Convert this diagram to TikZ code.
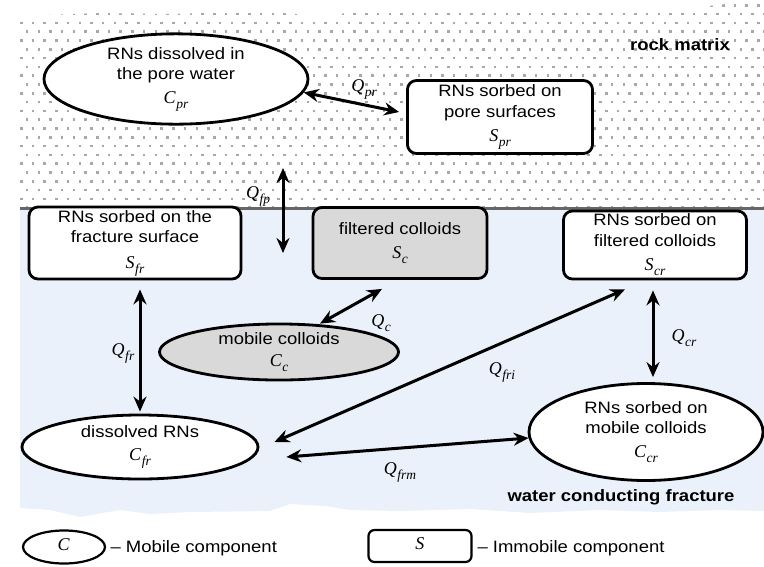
\documentclass[tikz,border=0pt]{standalone}
\usepackage{fontspec}
\setmainfont{Liberation Sans}[FakeStretch=1.12]
\newfontfamily\varfont{Liberation Serif}
\newcommand{\vsym}[2]{{\varfont\itshape\fontsize{18}{20}\selectfont #1\kern0.5pt\raisebox{-0.28em}{\fontsize{13.5}{13}\selectfont #2}}}
\usetikzlibrary{arrows.meta,shapes.geometric}
\definecolor{bluebg}{HTML}{EAF1FA}
\definecolor{nodegray}{HTML}{D9D9D9}
\definecolor{dotgray}{HTML}{A8A8A8}
\definecolor{linegray}{HTML}{666666}
\begin{document}
\begin{tikzpicture}[x=1pt,y=-1pt,
  every node/.style={font=\fontsize{16.5}{20.5}\selectfont},
  mobile/.style={ellipse, draw, line width=2.8pt, fill=white, align=center, inner sep=0pt},
  immobile/.style={rectangle, rounded corners=9pt, draw, line width=2.8pt, fill=white, align=center, inner sep=0pt},
  flux/.style={line width=3pt, {Stealth[length=15pt,width=13pt,inset=5pt]}-{Stealth[length=15pt,width=13pt,inset=5pt]}},
  lbl/.style={inner sep=0pt},
  bold/.style={font=\fontsize{16.5}{20}\selectfont\bfseries}
]
\useasboundingbox (0,0) rectangle (764,566);
% fracture (blue) region
\fill[bluebg] (20,209) -- (764,209) -- (764,511) -- (720,510) -- (660,512) -- (600,510) -- (530,513) -- (470,509)
  -- (400,511) -- (350,510) -- (325,506) -- (290,504) -- (270,511) -- (190,512) -- (150,514) -- (120,510)
  -- (80,517) -- (50,510) -- (20,508) -- cycle;
% rock matrix (dotted) region
\begin{scope}
  \clip (20,22) -- (45,15) -- (100,13) -- (170,14) -- (230,12) -- (290,13) -- (320,18) -- (350,12) -- (420,10)
    -- (470,11) -- (520,9) -- (580,10) -- (640,8) -- (700,7) -- (735,3) -- (764,2) -- (764,207) -- (20,207) -- cycle;
  \foreach \r in {0,...,24} {
    \pgfmathsetmacro{\off}{mod(\r,2)*5.85}
    \foreach \c in {0,...,66} {
      \fill[dotgray] ({20+\off+\c*11.7},{4+\r*8.8}) rectangle +(2.5,2.5);
    }
  }
\end{scope}
\draw[linegray, line width=3pt] (20,208) -- (764,208);

% nodes
\node[mobile, minimum width=264pt, minimum height=76pt] (cpr) at (176,79) {RNs dissolved in\\the pore water\\[3pt]\vsym{C}{pr}};
\node[immobile, minimum width=185pt, minimum height=73pt] (spr) at (500,117) {RNs sorbed on\\pore surfaces\\[4pt]\vsym{S}{pr}};
\node[immobile, minimum width=212pt, minimum height=72pt] (sfr) at (135,243) {RNs sorbed on the\\fracture surface\\[5pt]\vsym{S}{fr}};
\node[immobile, fill=nodegray, minimum width=174pt, minimum height=71pt] (sc) at (400,243) {filtered colloids\\[3pt]\vsym{S}{c}};
\node[immobile, minimum width=183pt, minimum height=68pt] (scr) at (655,245) {RNs sorbed on\\filtered colloids\\[4pt]\vsym{S}{cr}};
\node[mobile, fill=nodegray, minimum width=239pt, minimum height=51pt] (cc) at (279,352) {mobile colloids\\[2pt]\vsym{C}{c}};
\node[mobile, minimum width=236pt, minimum height=64pt] (cfr) at (140,447) {dissolved RNs\\[2pt]\vsym{C}{fr}};
\node[mobile, minimum width=234pt, minimum height=97pt] (ccr) at (646,432) {RNs sorbed on\\mobile colloids\\[3pt]\vsym{C}{cr}};

\node[bold] (rock) at (680,45) {rock matrix};
\node[bold] (frac) at (621,497) {water conducting fracture};

% free ends of Q_fp
\coordinate (fp1) at (283,168);
\coordinate (fp2) at (283,253);

% fluxes
\draw[flux] (cpr.-6) -- ([xshift=-7pt,yshift=5pt]spr.west);
\draw[flux] (fp1) -- (fp2);
\draw[flux] ([xshift=5pt,yshift=-9pt]sfr.south) -- ([yshift=2pt]cfr.north);
\draw[flux] ([xshift=41pt,yshift=-1pt]cc.north) -- ([xshift=-18pt,yshift=-9pt]sc.south);
\draw[flux] ([xshift=15pt,yshift=5pt]cfr.east) -- ([xshift=-30pt,yshift=-9pt]scr.south);
\draw[flux] ([xshift=-2pt,yshift=-10pt]scr.south) -- ([xshift=7pt,yshift=5pt]ccr.north);
\draw[flux] ([xshift=27pt,yshift=-10pt]cfr.east) -- ([xshift=1pt,yshift=-6pt]ccr.west);

% flux labels
\node[lbl] (qpr) at (364,89) {\vsym{Q}{pr}};
\node[lbl] (qfp) at (258,196) {\vsym{Q}{fp}};
\node[lbl] (qfr) at (123,353) {\vsym{Q}{fr}};
\node[lbl] (qc) at (381,323) {\vsym{Q}{c}};
\node[lbl] (qfri) at (502,372) {\vsym{Q}{fri}};
\node[lbl] (qcr) at (684,338) {\vsym{Q}{cr}};
\node[lbl] (qfrm) at (400,472) {\vsym{Q}{frm}};

% legend
\node[mobile, line width=2.2pt, minimum width=82pt, minimum height=33pt] (legc) at (64,547) {\vsym{C}{}};
\node[anchor=west] (legct) at (107,548) {-- Mobile component};
\node[immobile, line width=2.2pt, rounded corners=6pt, minimum width=103pt, minimum height=32pt] (legs) at (420,546) {\vsym{S}{}};
\node[anchor=west] (legst) at (474,548) {-- Immobile component};
\end{tikzpicture}
\end{document}
